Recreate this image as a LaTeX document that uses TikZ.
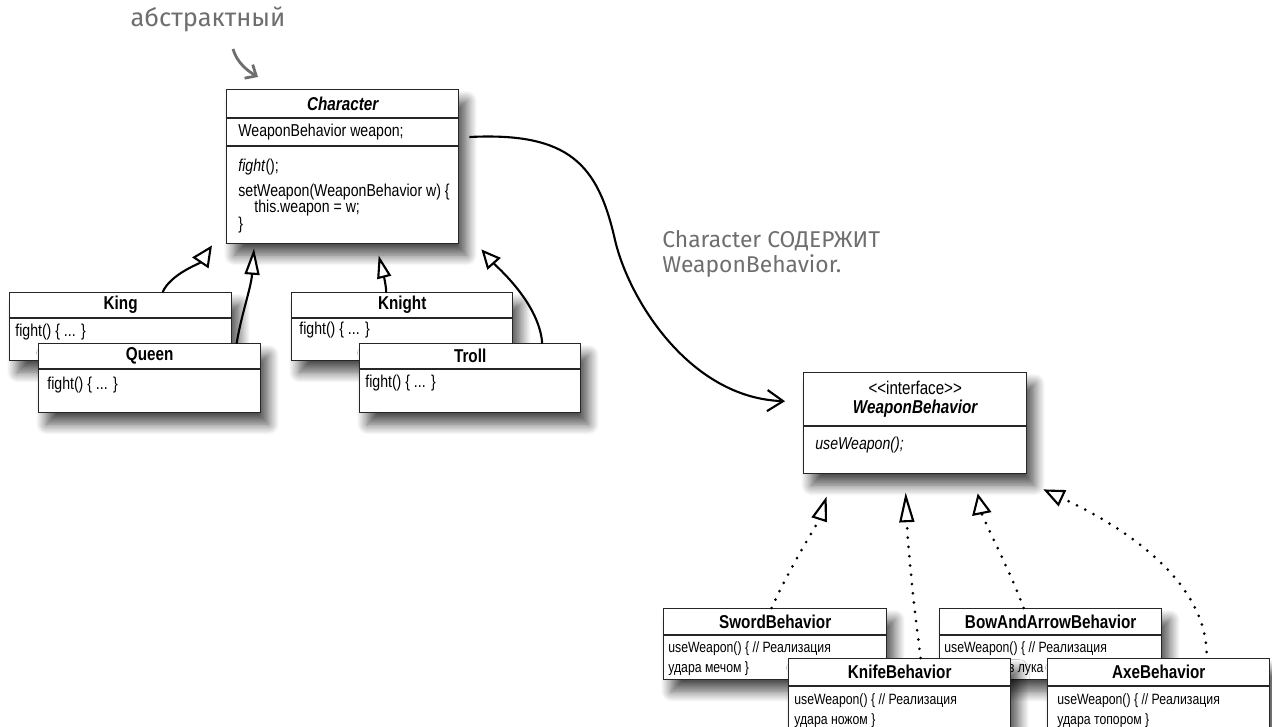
\documentclass[tikz,border=0pt]{standalone}
\usepackage{fontspec}
\newfontfamily\umlfont[FakeStretch=0.82]{Liberation Sans}
\newfontfamily\handfont{Fira Sans}
\usepackage{tikz}
\usetikzlibrary{positioning,arrows.meta,calc,shadows.blur}
\definecolor{pencil}{HTML}{6E6E6E}

\begin{document}
\begin{tikzpicture}[x=0.02cm, y=-0.02cm,
    classbox/.style={rectangle, draw=black!85, fill=white, line width=0.8pt,
                     anchor=north west, inner sep=0pt,
                     blur shadow={shadow xshift=4.5pt, shadow yshift=-6.5pt,
                                  shadow blur radius=6pt, shadow blur steps=12,
                                  shadow opacity=70}},
    classname/.style={font=\umlfont\fontsize{10.6}{12}\selectfont\bfseries, inner sep=0pt},
    member/.style={font=\umlfont\fontsize{9.8}{11}\selectfont, anchor=west, inner sep=0pt},
    behavior/.style={font=\umlfont\fontsize{8.5}{11.3}\selectfont, anchor=north west,
                     align=left, inner sep=0pt},
    sepline/.style={draw=black!85, line width=0.8pt},
    isa/.style={line width=1.2pt, line cap=round,
                -{Triangle[length=12pt, width=11pt, fill=white]}},
    impl/.style={line width=1.7pt, line cap=round, dash pattern=on 0pt off 5.3pt,
                 -{Triangle[length=14pt, width=9pt, fill=white, line width=1.2pt]}},
    has/.style={line width=1.2pt, -{Straight Barb[length=9pt, width=12pt]}},
    handnote/.style={font=\handfont\fontsize{13}{14}\selectfont, text=pencil, inner sep=0pt},
    pencilarrow/.style={draw=pencil, line width=1.6pt, -{Straight Barb[length=5pt, width=9pt]}}
]
    \useasboundingbox (0,0) rectangle (1272,727);

    % subclasses of Character
    \node[classbox, minimum width=4.44cm, minimum height=1.36cm] (king) at (9,292) {};
    \node[classname] (kingname) at ($(king.north)+(0,13)$) {King};
    \draw[sepline] ($(king.north west)+(0,26)$) -- ($(king.north east)+(0,26)$);
    \node[member] (kingfight) at ($(king.north west)+(6,40)$) {fight() \{ ... \}};

    \node[classbox, minimum width=4.44cm, minimum height=1.38cm] (queen) at (38,343) {};
    \node[classname] (queenname) at ($(queen.north)+(0,13)$) {Queen};
    \draw[sepline] ($(queen.north west)+(0,26)$) -- ($(queen.north east)+(0,26)$);
    \node[member] (queenfight) at ($(queen.north west)+(9,42)$) {fight() \{ ... \}};

    \node[classbox, minimum width=4.42cm, minimum height=1.36cm] (knight) at (291,292) {};
    \node[classname] (knightname) at ($(knight.north)+(0,13)$) {Knight};
    \draw[sepline] ($(knight.north west)+(0,26)$) -- ($(knight.north east)+(0,26)$);
    \node[member] (knightfight) at ($(knight.north west)+(8,38)$) {fight() \{ ... \}};

    \node[classbox, minimum width=4.42cm, minimum height=1.38cm] (troll) at (359,343) {};
    \node[classname] (trollname) at ($(troll.north)+(0,13)$) {Troll};
    \draw[sepline] ($(troll.north west)+(0,26)$) -- ($(troll.north east)+(0,26)$);
    \node[member] (trollfight) at ($(troll.north west)+(6,40)$) {fight() \{ ... \}};

    % abstract class
    \node[classbox, minimum width=4.64cm, minimum height=3.08cm] (character) at (226,89) {};
    \node[classname, font=\umlfont\fontsize{10.6}{12}\selectfont\bfseries\itshape]
        (charname) at ($(character.north)+(0,14.5)$) {Character};
    \draw[sepline] ($(character.north west)+(0,29)$) -- ($(character.north east)+(0,29)$);
    \node[member] (charweapon) at ($(character.north west)+(12,43)$) {WeaponBehavior weapon;};
    \draw[sepline] ($(character.north west)+(0,57)$) -- ($(character.north east)+(0,57)$);
    \node[member] (charfight) at ($(character.north west)+(12,78)$) {\textit{fight}();};
    \node[member] (charset) at ($(character.north west)+(12,103)$) {setWeapon(WeaponBehavior w) \{};
    \node[member] (charbody) at ($(character.north west)+(28,119)$) {this.weapon = w;};
    \node[member] (charclose) at ($(character.north west)+(12,136)$) {\}};

    \draw[isa] ($(king.north)+(42,0)$) .. controls +(8,-18) and +(-12,18) .. ($(character.south west)+(-14,1)$);
    \draw[isa, -{Triangle[length=15pt, width=8.5pt, fill=white]}]
        ($(queen.north)+(87,0)$) .. controls +(5,-30) and +(-3,40) .. ($(character.south west)+(28,4)$);
    \draw[isa, -{Triangle[length=13pt, width=8pt, fill=white]}]
        ($(knight.north)+(-16,0)$) .. controls +(0,-8) and +(3,12) .. ($(character.south)+(36,11)$);
    \draw[isa, -{Triangle[length=11pt, width=10pt, fill=white]}]
        ($(troll.north)+(72,0)$) .. controls +(-3,-40) and +(15,17) .. ($(character.south east)+(22,5)$);

    % interface
    \node[classbox, minimum width=4.46cm, minimum height=2.02cm] (weapon) at (803,372) {};
    \node[member, anchor=center, font=\umlfont\fontsize{10.5}{12}\selectfont]
        (weaponstereo) at ($(weapon.north)+(0,16)$) {<\kern0pt<interface>\kern0pt>};
    \node[classname, font=\umlfont\fontsize{10.6}{12}\selectfont\bfseries\itshape]
        (weaponname) at ($(weapon.north)+(0,37)$) {WeaponBehavior};
    \draw[sepline] ($(weapon.north west)+(0,54)$) -- ($(weapon.north east)+(0,54)$);
    \node[member] (weaponuse) at ($(weapon.north west)+(12,73)$) {\textit{useWeapon();}};

    \draw[has] ($(character.north east)+(10,48)$) .. controls (570,132) and (598,165) .. (615,240)
        .. controls (629,300) and (690,398) .. ($(weapon.west)+(-18,-22)$);

    % behaviours
    \node[classbox, minimum width=4.46cm, minimum height=1.42cm] (sword) at (663,608) {};
    \node[classname] (swordname) at ($(sword.north)+(0,13.5)$) {SwordBehavior};
    \draw[sepline] ($(sword.north west)+(0,27)$) -- ($(sword.north east)+(0,27)$);
    \node[behavior] (swordbody) at ($(sword.north west)+(5,33)$) {useWeapon() \{ // Реализация\\удара мечом \}};

    \node[classbox, minimum width=4.44cm, minimum height=1.42cm] (bow) at (939,608) {};
    \node[classname] (bowname) at ($(bow.north)+(0,13.5)$) {BowAndArrowBehavior};
    \draw[sepline] ($(bow.north west)+(0,27)$) -- ($(bow.north east)+(0,27)$);
    \node[behavior] (bowbody) at ($(bow.north west)+(5,33)$) {useWeapon() \{ // Реализация\\выстрела из лука \}};

    \node[classbox, minimum width=4.44cm, minimum height=1.44cm] (knife) at (788,658) {};
    \node[classname] (knifename) at ($(knife.north)+(0,14)$) {KnifeBehavior};
    \draw[sepline] ($(knife.north west)+(0,28)$) -- ($(knife.north east)+(0,28)$);
    \node[behavior] (knifebody) at ($(knife.north west)+(6,35)$) {useWeapon() \{ // Реализация\\удара ножом \}};

    \node[classbox, minimum width=4.44cm, minimum height=1.44cm] (axe) at (1047,658) {};
    \node[classname] (axename) at ($(axe.north)+(0,14)$) {AxeBehavior};
    \draw[sepline] ($(axe.north west)+(0,28)$) -- ($(axe.north east)+(0,28)$);
    \node[behavior] (axebody) at ($(axe.north west)+(10,35)$) {useWeapon() \{ // Реализация\\удара топором \}};

    \draw[impl] ($(sword.north)+(-3.5,0)$) .. controls +(15,-35) and +(-8,25) .. ($(weapon.south)+(-88.5,22)$);
    \draw[impl, -{Triangle[length=17pt, width=8.5pt, fill=white, line width=1.2pt]}]
        ($(knife.north)+(21,0)$) .. controls +(-8,-60) and +(2,50) .. ($(weapon.south)+(-9.5,18)$);
    \draw[impl, -{Triangle[length=12pt, width=11pt, fill=white, line width=1.2pt]}]
        ($(bow.north)+(-27,0)$) .. controls +(-15,-40) and +(5,25) .. ($(weapon.south)+(62.5,19)$);
    \draw[impl, -{Triangle[length=12pt, width=10pt, fill=white, line width=1.2pt]}]
        ($(axe.north)+(48,-6)$) .. controls +(-3,-82) and +(58,27) .. ($(weapon.south east)+(16,15)$);

    % notes
    \node[handnote, font=\handfont\fontsize{14.5}{16}\selectfont] (abstract) at (208,19) {абстрактный};
    \draw[pencilarrow] ($(abstract.center)+(25,30)$) .. controls +(4,14) and +(-10,-6) .. ($(character.north west)+(32,-12)$);
    \node[handnote, anchor=north west, align=left] (hasa) at (662,230) {Character СОДЕРЖИТ\\WeaponBehavior.};
\end{tikzpicture}
\end{document}
